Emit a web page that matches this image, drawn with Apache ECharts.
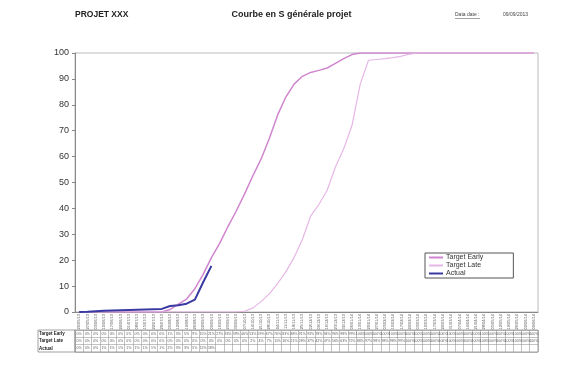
<!DOCTYPE html>
<html><head><meta charset="utf-8">
<script src="https://cdn.jsdelivr.net/npm/echarts@6/dist/echarts.min.js"></script>
<style>html,body{margin:0;padding:0;background:#fff}#c{width:583px;height:365px}</style>
</head><body><div id="c"></div>
<script>
const categories = ['20/05/13','27/05/13','03/06/13','10/06/13','17/06/13','24/06/13','01/07/13','08/07/13','15/07/13','22/07/13','29/07/13','05/08/13','12/08/13','19/08/13','26/08/13','02/09/13','09/09/13','16/09/13','23/09/13','30/09/13','07/10/13','14/10/13','21/10/13','28/10/13','04/11/13','11/11/13','18/11/13','25/11/13','02/12/13','09/12/13','16/12/13','23/12/13','30/12/13','06/01/14','13/01/14','20/01/14','27/01/14','03/02/14','10/02/14','17/02/14','24/02/14','03/03/14','10/03/14','17/03/14','24/03/14','31/03/14','07/04/14','14/04/14','21/04/14','28/04/14','05/05/14','12/05/14','19/05/14','26/05/14','02/06/14','09/06/14'];
const targetEarly = [0,0,0,0,0,0,0,0,0,0,0,1,3,5,9,14.5,21,26.5,33,39,45.5,52.5,59,67,76,83,88,91,92.5,93.3,94.2,96,97.8,99.4,100,100,100,100,100,100,100,100,100,100,100,100,100,100,100,100,100,100,100,100,100,100];
const targetLate = [0,0,0,0,0,0,0,0,0,0,0,0,0,0,0,0,0,0,0,0,0.3,1.5,4,7,11,15.5,21,28,37,41.5,47,56,63,72,88,97.2,97.5,97.8,98.2,98.8,99.6,100,100,100,100,100,100,100,100,100,100,100,100,100,100,100];
const actual = [0,0.1,0.3,0.5,0.6,0.7,0.8,0.9,1.0,1.1,1.2,2.3,2.6,3.2,4.8,11.5,17.8];
const yTicks = [0,10,20,30,40,50,60,70,80,90,100];
const tableRows = ['Target Early','Target Late','Actual'];

const chart = echarts.init(document.getElementById('c'));
const tableData = [];
[targetEarly, targetLate, actual].forEach((arr, r) => {
  arr.forEach((v, i) => { if (v !== null && v !== undefined) tableData.push([i, r, Math.round(v)]); });
});
const F = 'Liberation Sans, Arial, sans-serif';
chart.setOption({
  animation: false,
  textStyle: {fontFamily: F},
  title: [
    {text: 'PROJET XXX', left: 75, top: 10, padding: 0, textStyle: {fontSize: 8.5, fontWeight: 'bold', color: '#222', fontFamily: F}},
    {text: 'Courbe en S générale projet', left: 'center', top: 10, padding: 0, textStyle: {fontSize: 9, fontWeight: 'bold', color: '#222', fontFamily: F}},
    {text: 'Data date :', left: 455, top: 12, padding: 0, textStyle: {fontSize: 5, fontWeight: 'normal', color: '#444', fontFamily: F}},
    {text: '09/09/2013', left: 503, top: 12, padding: 0, textStyle: {fontSize: 5, fontWeight: 'normal', color: '#444', fontFamily: F}}
  ],
  graphic: [
    {type: 'line', shape: {x1: 455, y1: 18.5, x2: 480, y2: 18.5}, style: {stroke: '#666', lineWidth: 0.6}},
    {type: 'rect', shape: {x: 38, y: 330, width: 37, height: 22}, style: {fill: 'none', stroke: '#888', lineWidth: 0.8}}
  ],
  legend: {
    orient: 'vertical', left: 425, top: 253, itemGap: 1, itemWidth: 14, itemHeight: 2, icon: 'rect',
    data: ['Target Early','Target Late','Actual'],
    borderColor: '#555', borderWidth: 1, padding: [1, 30, 1, 4],
    textStyle: {fontSize: 7, color: '#333', padding: [0,0,0,-2]}
  },
  grid: [
    {left: 75, right: 45, top: 53, height: 259, show: true, borderColor: '#bbb', borderWidth: 1},
    {left: 75, right: 45, top: 330, height: 22, show: true, borderColor: '#888', borderWidth: 0.8}
  ],
  xAxis: [
    {type: 'category', gridIndex: 0, data: categories, boundaryGap: true,
     axisLine: {lineStyle: {color: '#888'}}, axisTick: {interval: 0, length: 2, lineStyle: {color: '#888'}},
     axisLabel: {interval: 0, rotate: 90, fontSize: 4, margin: 2, color: '#555'}},
    {type: 'category', gridIndex: 1, data: categories, boundaryGap: true,
     axisLine: {show: false}, axisTick: {show: false}, axisLabel: {show: false},
     splitLine: {show: true, interval: 0, lineStyle: {color: '#999', width: 0.6}}}
  ],
  yAxis: [
    {type: 'value', gridIndex: 0, min: 0, max: 100, interval: 10,
     axisLine: {show: true, lineStyle: {color: '#888'}}, axisTick: {show: true, length: 3, lineStyle: {color: '#888'}},
     splitLine: {show: false},
     axisLabel: {fontSize: 9, color: '#333', margin: 6, formatter: v => yTicks.includes(v) ? String(v) : ''}},
    {type: 'category', gridIndex: 1, data: tableRows, inverse: true,
     axisLine: {show: false}, axisTick: {show: false},
     splitLine: {show: true, lineStyle: {color: '#999', width: 0.6}},
     axisLabel: {fontSize: 4.5, fontWeight: 'bold', color: '#222', margin: 36, align: 'left'}}
  ],
  series: [
    {name: 'Target Early', type: 'line', data: targetEarly, showSymbol: false, smooth: false,
     lineStyle: {color: '#cf86cf', width: 1.5}, itemStyle: {color: '#cf86cf'}},
    {name: 'Target Late', type: 'line', data: targetLate, showSymbol: false,
     lineStyle: {color: '#e6b6e6', width: 1.2}, itemStyle: {color: '#e6b6e6'}},
    {name: 'Actual', type: 'line', data: actual, showSymbol: false,
     lineStyle: {color: '#3a3aa2', width: 2}, itemStyle: {color: '#3a3aa2'}},
    {name: 'table', type: 'scatter', xAxisIndex: 1, yAxisIndex: 1, data: tableData, symbolSize: 0,
     label: {show: true, position: 'inside', fontSize: 3.5, color: '#333', formatter: p => p.value[2] + '%'}}
  ]
});
</script></body></html>
